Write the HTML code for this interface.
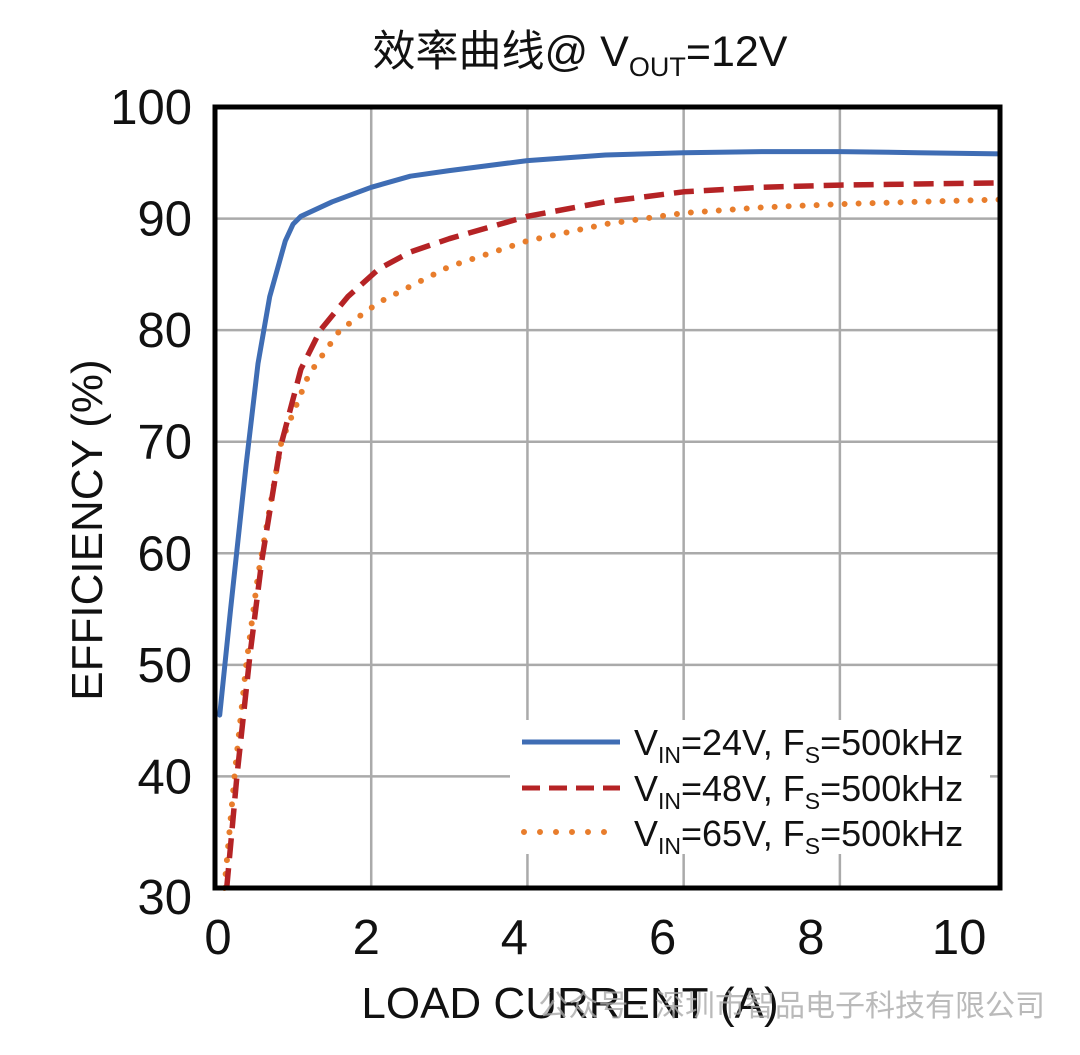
<!DOCTYPE html>
<html><head><meta charset="utf-8"><style>
body{margin:0;background:#fff;}
svg text{font-family:"Liberation Sans","Noto Sans CJK SC",sans-serif;}
</style></head><body>
<svg width="1080" height="1050" viewBox="0 0 1080 1050">
<text x="580" y="66" font-size="43" text-anchor="middle" fill="#111">效率曲线@ V<tspan font-size="27" dy="10">OUT</tspan><tspan dy="-10">=12V</tspan></text>
<g id="grid"></g>
<g id="ticks"></g>
<g id="series"></g>
<rect x="215" y="107" width="785" height="781" fill="none" stroke="#000" stroke-width="5"/>
<text transform="translate(102,530) rotate(-90)" font-size="44" text-anchor="middle" fill="#111">EFFICIENCY (%)</text>
<text x="570" y="1018" font-size="44" text-anchor="middle" fill="#111">LOAD CURRENT (A)</text>
<text x="1045" y="1016" font-size="30" text-anchor="end" fill="#aaa" opacity="0.8">公众号 · 深圳市智品电子科技有限公司</text>
<g>
<rect x="510" y="720" width="480" height="134" fill="#fff"/>
<line x1="522" y1="742" x2="620" y2="742" stroke="#3f6db4" stroke-width="5"/>
<line x1="522" y1="788" x2="620" y2="788" stroke="#b52325" stroke-width="5" stroke-dasharray="18,9"/>
<line x1="524" y1="832" x2="620" y2="832" stroke="#e87d2c" stroke-width="6" stroke-dasharray="0,16" stroke-linecap="round"/>
<text x="634" y="755" font-size="36" fill="#111">V<tspan font-size="23" dy="8">IN</tspan><tspan dy="-8">=24V, F</tspan><tspan font-size="23" dy="8">S</tspan><tspan dy="-8">=500kHz</tspan></text>
<text x="634" y="801" font-size="36" fill="#111">V<tspan font-size="23" dy="8">IN</tspan><tspan dy="-8">=48V, F</tspan><tspan font-size="23" dy="8">S</tspan><tspan dy="-8">=500kHz</tspan></text>
<text x="634" y="846" font-size="36" fill="#111">V<tspan font-size="23" dy="8">IN</tspan><tspan dy="-8">=65V, F</tspan><tspan font-size="23" dy="8">S</tspan><tspan dy="-8">=500kHz</tspan></text>
</g>
</svg>
<script>
const xTicks=[0,2,4,6,8,10];
const yTicks=[30,40,50,60,70,80,90,100];
const x24=[0.06,0.2,0.4,0.55,0.7,0.9,1.0,1.1,1.5,2,2.5,3,4,5,6,7,8,9,10.05];
const y24=[45.5,55,68,77,83,88,89.5,90.2,91.5,92.8,93.8,94.3,95.2,95.7,95.9,96,96,95.9,95.8];
const x48=[0.15,0.28,0.45,0.6,0.83,1.1,1.35,1.7,2.1,2.5,3,4,5,6,7,8,9,10.05];
const y48=[30,40,51,59.4,69.3,76.5,80,83,85.5,87,88.2,90.2,91.5,92.4,92.8,93,93.1,93.2];
const x65=[0.12,0.25,0.4,0.55,0.85,1.2,1.6,2.1,3,4,5,6,7,8,9,10.05];
const y65=[30,40,50,58,70,76,80,82.5,85.7,88,89.5,90.5,91,91.3,91.5,91.7];
const NS="http://www.w3.org/2000/svg";
const X0=215,X1=1000,Y0=888,Y1=107,XMAX=10.05;
function sx(v){return X0+v/XMAX*(X1-X0);}
function sy(v){return Y0-(v-30)/70*(Y0-Y1);}
const grid=document.getElementById('grid'),ticks=document.getElementById('ticks'),ser=document.getElementById('series');
xTicks.forEach(t=>{
 if(t>0&&t<10){const l=document.createElementNS(NS,'line');
 
 
 l.setAttribute('x1',sx(t));l.setAttribute('x2',sx(t));l.setAttribute('y1',Y1);l.setAttribute('y2',Y0);
 l.setAttribute('stroke','#aaa');l.setAttribute('stroke-width','2.5');grid.appendChild(l);}
 const tx=document.createElementNS(NS,'text');
 
 
 tx.setAttribute('x',sx(t)-(t/10)*40+3);tx.setAttribute('y',954);tx.setAttribute('font-size','49');tx.setAttribute('text-anchor','middle');tx.setAttribute('fill','#111');
 tx.textContent=t;ticks.appendChild(tx);
});
yTicks.forEach(t=>{
 if(t>30&&t<100){const l=document.createElementNS(NS,'line');
 
 
 l.setAttribute('x1',X0);l.setAttribute('x2',X1);l.setAttribute('y1',sy(t));l.setAttribute('y2',sy(t));
 l.setAttribute('stroke','#aaa');l.setAttribute('stroke-width','2.5');grid.appendChild(l);}
 const tx=document.createElementNS(NS,'text');
 
 
 tx.setAttribute('x',192);tx.setAttribute('y',sy(t)+(t===30?26:17));tx.setAttribute('font-size','49');tx.setAttribute('text-anchor','end');tx.setAttribute('fill','#111');
 tx.textContent=t;ticks.appendChild(tx);
});
function path(xs,ys,color,dash,cap,name,w){
 const p=document.createElementNS(NS,'path');
 
 
 p.setAttribute('d',xs.map((v,i)=>(i?'L':'M')+sx(v).toFixed(1)+','+sy(ys[i]).toFixed(1)).join(''));
 p.setAttribute('fill','none');p.setAttribute('stroke',color);p.setAttribute('stroke-width',w);
 p.setAttribute('stroke-linejoin','round');
 if(dash)p.setAttribute('stroke-dasharray',dash);
 if(cap)p.setAttribute('stroke-linecap',cap);
 ser.appendChild(p);
}
path(x65,y65,'#e87d2c','0,14','round','series-65v','6');
path(x48,y48,'#b52325','20,10',null,'series-48v','5.5');
path(x24,y24,'#3f6db4',null,'round','series-24v','5');
</script>
</body></html>
